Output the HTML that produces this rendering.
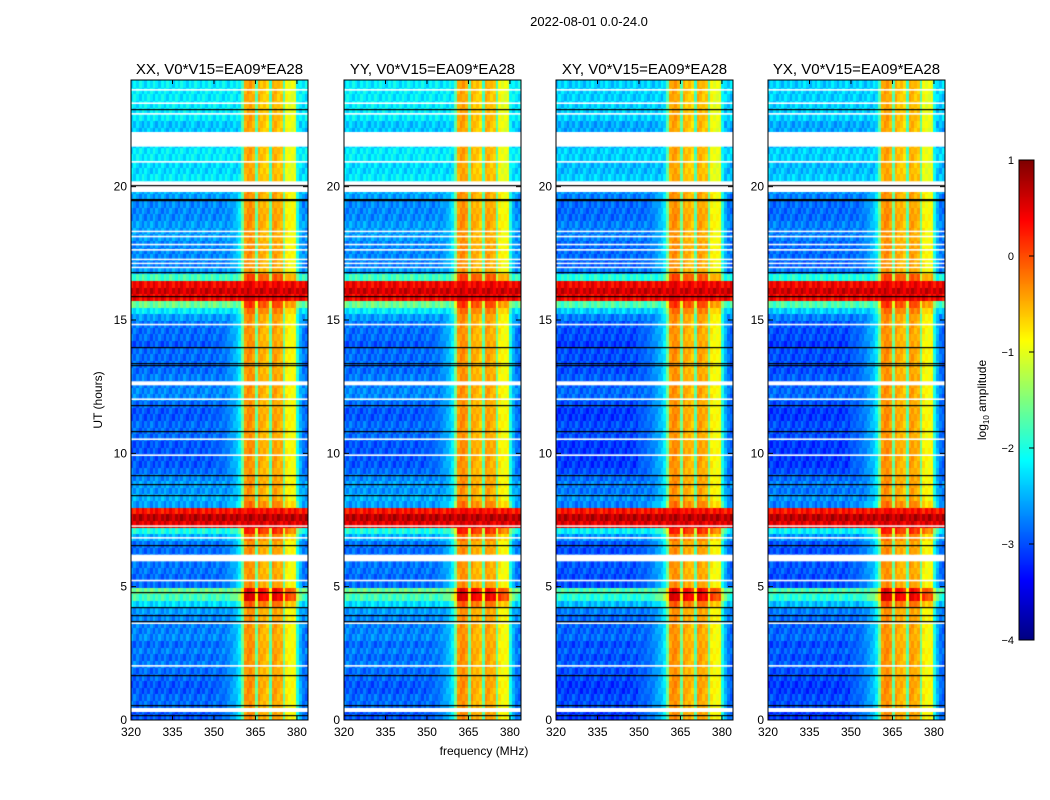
<!DOCTYPE html>
<html><head><meta charset="utf-8"><style>
body{margin:0;background:#fff;font-family:"Liberation Sans",sans-serif}
#wrap{position:relative;width:1050px;height:800px;overflow:hidden}
canvas{position:absolute}
svg{position:absolute;left:0;top:0}
</style></head><body>
<div id="wrap">
<canvas id="c0" width="177" height="640" style="left:131px;top:80px"></canvas>
<canvas id="c1" width="177" height="640" style="left:344px;top:80px"></canvas>
<canvas id="c2" width="177" height="640" style="left:556px;top:80px"></canvas>
<canvas id="c3" width="177" height="640" style="left:768px;top:80px"></canvas>
<canvas id="cb" width="15" height="480" style="left:1019px;top:160px"></canvas>
<svg id="ov" width="1050" height="800"></svg>
</div>
<script>
const panelTitles=["XX, V0*V15=EA09*EA28","YY, V0*V15=EA09*EA28","XY, V0*V15=EA09*EA28","YX, V0*V15=EA09*EA28"];
const panelOffset=[0,0,-0.15,-0.15];
const xTicks=[320,335,350,365,380];
const yTicks=[0,5,10,15,20];
const cbTicks=[1,0,-1,-2,-3,-4];
const cbTickLabels=["1","0","\u22121","\u22122","\u22123","\u22124"];
// background log10 amplitude per 0.25 h row (0..24 h)
const bgLevel=[-2.95,-2.95,-2.85,-2.85,-2.95,-2.95,-2.85,-2.85,-2.75,-2.85,-2.75,-2.85,-2.7,-2.75,-2.75,-2.7,
-2.6,-2.3,-1.8,-1.6,-2.85,-2.85,-2.8,-2.8,-2.8,-2.85,-2.8,-2.5,-2.0,0.5,0.7,0.3,
-2.6,-2.5,-2.65,-2.6,-2.7,-2.85,-2.95,-2.95,-2.95,-2.95,-2.85,-2.85,-2.85,-2.95,-2.95,-2.85,
-2.7,-2.7,-2.75,-2.75,-2.85,-2.85,-2.85,-2.85,-2.95,-2.85,-2.85,-2.8,-2.6,-2.2,-1.6,0.4,
0.6,0.4,-1.8,-2.6,-2.75,-2.7,-2.7,-2.7,-2.6,-2.6,-2.6,-2.7,-2.7,-2.7,-2.6,-2.5,
-2.2,-2.2,-2.3,-2.3,-2.2,-2.2,-2.3,-2.3,-2.4,-2.4,-2.2,-2.2,-2.2,-2.2,-2.2,-2.2];
// band boost per row
const bandMod=[0,0,0,0,0,0,0,0,0,0,0,0,0,0,0,0,
0,0.3,0.9,0.8,0,0,0,0,0,0,0,0.2,0.6,0.9,0.9,0.7,
0.2,0,0,0,0,0,0,0,0,0,0,0,0,0,0,0,
0,0,0,0,0,0,0,0,0,0,0,0,0,0.2,0.5,0.9,
0.9,0.8,0.4,0,0,0,0,0,0,0,0,0,0,0,0,0,
-0.1,-0.1,-0.1,-0.1,-0.1,-0.1,-0.1,-0.1,-0.1,-0.1,-0.1,-0.1,-0.1,-0.1,-0.1,-0.1];
// band profile per 1 MHz channel, 320..383
const bandProfile=[-9,-9,-9,-9,-9,-9,-9,-9,-9,-9,-9,-9,-9,-9,-9,-9,-9,-9,-9,-9,-9,-9,-9,-9,-9,-9,-9,-9,-9,-9,
-2.9,-2.9,-2.9,-2.8,-2.8,-2.7,-2.6,-2.5,-2.4,-2.2,-1.6,
-0.4,-0.3,-0.3,-0.4,-1.6,-0.4,-0.5,-0.5,-0.6,-1.7,-0.4,-0.4,-0.5,-0.5,-1.6,-0.8,-0.9,-0.9,-0.9,-2.0,-2.5,-2.8,-2.9];
const whiteFlags=[[0.3,0.45],[2.0,2.06],[3.6,3.66],[5.2,5.26],[5.95,6.2],[6.8,6.86],[7.25,7.3],[9.9,9.96],[10.5,10.56],[12.0,12.06],[12.55,12.7],[14.8,14.86],[16.95,17.0],[17.1,17.15],[17.25,17.3],[17.6,17.66],[17.8,17.86],[18.1,18.16],[18.3,18.35],[19.8,20.2],[20.9,20.96],[21.5,22.05],[22.7,22.76],[23.1,23.16],[23.6,23.66]];
const blackLines=[0.2,0.55,1.7,3.7,3.95,4.25,4.8,6.55,8.45,8.85,9.2,10.85,11.8,13.3,13.4,14.0,15.9,16.8,19.5,19.55,20.05,22.9];
function jet(v){const t=Math.max(0,Math.min(1,(v+4)/5));
 const r=Math.max(0,Math.min(1,1.5-Math.abs(4*t-3))),g=Math.max(0,Math.min(1,1.5-Math.abs(4*t-2))),b=Math.max(0,Math.min(1,1.5-Math.abs(4*t-1)));
 return `rgb(${r*255|0},${g*255|0},${b*255|0})`;}
const H=640,W=177,pxH=H/24,pxF=W/64;
function yOf(h){return H-h*pxH}
for(let p=0;p<4;p++){
 const ctx=document.getElementById('c'+p).getContext('2d');
 for(let r=0;r<bgLevel.length;r++){
  let bg=bgLevel[r]; if(bg<-1)bg+=panelOffset[p];
  for(let c=0;c<bandProfile.length;c++){
   const tex=((r*7+c*13)%5-2)*0.1;
   const v=Math.max(bg+tex,bandProfile[c]+bandMod[r]+tex*0.5);
   ctx.fillStyle=jet(v);
   ctx.fillRect(Math.floor(c*pxF),Math.floor(yOf((r+1)/4)),Math.ceil(pxF)+1,Math.ceil(pxH/4)+1);
  }
 }
 ctx.fillStyle='#fff';
 whiteFlags.forEach(f=>{ctx.fillRect(0,yOf(f[1]),W,Math.max(1.5,(f[1]-f[0])*pxH));});
 ctx.fillStyle='#000';
 blackLines.forEach(h=>{ctx.fillRect(0,Math.round(yOf(h)),W,1.2);});
}
const cb=document.getElementById('cb').getContext('2d');
for(let i=0;i<480;i++){cb.fillStyle=jet(1-5*i/480);cb.fillRect(0,i,15,1);}
const NS='http://www.w3.org/2000/svg',ov=document.getElementById('ov');
function el(tag,a,txt){const e=document.createElementNS(NS,tag);for(const k in a)e.setAttribute(k,a[k]);if(txt!==undefined)e.textContent=txt;ov.appendChild(e);return e;}
const lefts=[131,344,556,768];
let t=el('text',{x:589,y:26,'font-size':13,'text-anchor':'middle'},'2022-08-01 0.0-24.0');


for(let p=0;p<4;p++){
 const L=lefts[p];
 const fr=el('rect',{x:L,y:80,width:W,height:H,fill:'none',stroke:'#000','stroke-width':1});
 
 
 const tt=el('text',{x:L+W/2,y:74,'font-size':15,'text-anchor':'middle'},panelTitles[p]);
 
 
 xTicks.forEach(f=>{const x=L+(f-320)*pxF;
  el('line',{x1:x,x2:x,y1:720,y2:716,stroke:'#000'});el('line',{x1:x,x2:x,y1:80,y2:84,stroke:'#000'});
  const tl=el('text',{x:x,y:736,'font-size':12,'text-anchor':'middle'},String(f));
  
  });
 yTicks.forEach(h=>{const y=80+yOf(h);
  el('line',{x1:L,x2:L+5,y1:y,y2:y,stroke:'#000'});el('line',{x1:L+W-5,x2:L+W,y1:y,y2:y,stroke:'#000'});
  const tl=el('text',{x:L-4,y:y+4,'font-size':12,'text-anchor':'end'},String(h));
  
  });
}
t=el('text',{x:484,y:755,'font-size':12,'text-anchor':'middle'},'frequency (MHz)');


t=el('text',{x:0,y:0,'font-size':12,'text-anchor':'middle',transform:'translate(102,400) rotate(-90)'},'UT (hours)');


const cbf=el('rect',{x:1019,y:160,width:15,height:480,fill:'none',stroke:'#000'});


cbTicks.forEach((v,i)=>{const y=160+(1-v)*96;
 el('line',{x1:1029,x2:1034,y1:y,y2:y,stroke:'#000'});
 const tl=el('text',{x:1014,y:y+4,'font-size':11,'text-anchor':'end'},cbTickLabels[i]);
 
 });
t=el('text',{x:0,y:0,'font-size':12,'text-anchor':'middle',transform:'translate(986,400) rotate(-90)'});
t.innerHTML='log<tspan font-size="8" dy="3">10</tspan><tspan dy="-3"> amplitude</tspan>';


</script>
</body></html>
